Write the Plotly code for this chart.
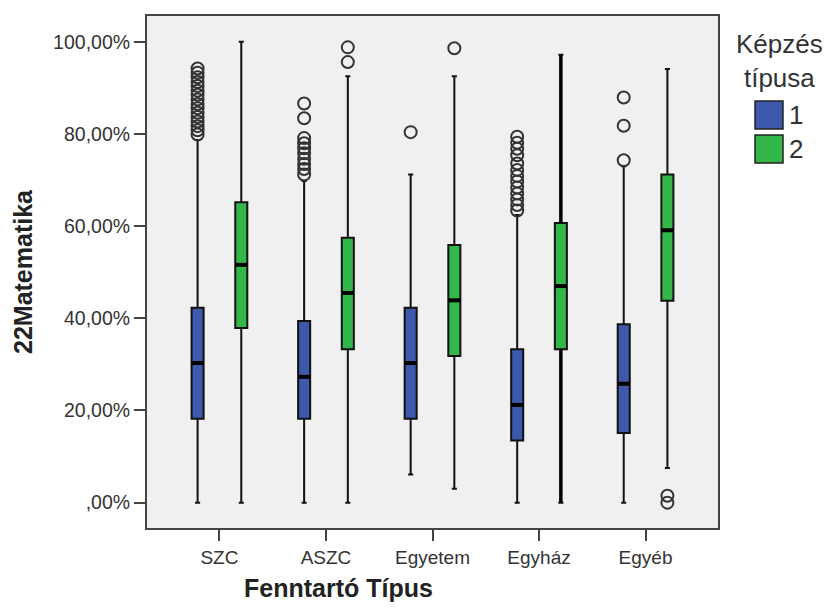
import plotly.graph_objects as go

# Fenntartó típus categories on the x axis
categories = ["SZC", "ASZC", "Egyetem", "Egyház", "Egyéb"]

# Képzés típusa = 1 (blue) : box statistics in percent
g1_low = [0.0, 0.0, 6.1, 0.0, 0.0]
g1_q1 = [18.2, 18.2, 18.2, 13.5, 15.1]
g1_med = [30.3, 27.3, 30.3, 21.2, 25.8]
g1_q3 = [42.3, 39.4, 42.3, 33.3, 38.7]
g1_high = [78.7, 69.8, 71.2, 62.4, 73.0]
g1_outliers = [
    [94.2, 93.3, 92.3, 91.3, 90.4, 89.4, 88.5, 87.5, 86.5, 85.6, 84.6,
     83.7, 82.7, 81.7, 80.8, 79.9],
    [86.6, 83.4, 79.1, 78.0, 76.9, 75.8, 74.6, 73.5, 72.4, 71.2],
    [80.4],
    [79.4, 78.1, 76.8, 75.4, 73.6, 72.2, 70.9, 69.7, 68.4, 67.1, 65.8,
     64.6, 63.4],
    [87.9, 81.8, 74.3],
]

# Képzés típusa = 2 (green)
g2_low = [0.0, 0.0, 3.0, 0.0, 7.5]
g2_q1 = [37.9, 33.3, 31.8, 33.3, 43.8]
g2_med = [51.6, 45.5, 43.9, 47.0, 59.1]
g2_q3 = [65.2, 57.5, 55.9, 60.7, 71.2]
g2_high = [100.0, 92.5, 92.5, 97.2, 94.1]
g2_outliers = [
    [],
    [98.8, 95.6],
    [98.6],
    [],
    [1.5, 0.0],
]

y_ticks = [0, 20, 40, 60, 80, 100]
y_ticktext = [",00%", "20,00%", "40,00%", "60,00%", "80,00%", "100,00%"]

BLUE = "#3D59AB"
GREEN = "#34B74A"
INK = "#333333"
FONT = "Liberation Sans, Arial, sans-serif"

OFFSET = 0.205
BOX_W = 0.113

idx = list(range(len(categories)))
groups = [
    ("1", BLUE, -OFFSET, g1_low, g1_q1, g1_med, g1_q3, g1_high, g1_outliers),
    ("2", GREEN, OFFSET, g2_low, g2_q1, g2_med, g2_q3, g2_high, g2_outliers),
]

fig = go.Figure()

for name, color, off, low, q1, med, q3, high, outs in groups:
    xs = [i + off for i in idx]
    fig.add_trace(go.Box(
        name=name, x=xs, q1=q1, median=med, q3=q3,
        lowerfence=low, upperfence=high,
        width=BOX_W, whiskerwidth=0.42,
        fillcolor=color, line=dict(color="#111111", width=2),
        boxpoints=False, showlegend=False, hoverinfo="skip",
    ))
    # thicker median bars
    mx, my = [], []
    for x, m in zip(xs, med):
        mx += [x - BOX_W / 2, x + BOX_W / 2, None]
        my += [m, m, None]
    fig.add_trace(go.Scatter(
        x=mx, y=my, mode="lines", line=dict(color="black", width=4),
        showlegend=False, hoverinfo="skip",
    ))
    # outliers
    ox, oy = [], []
    for x, vals in zip(xs, outs):
        ox += [x] * len(vals)
        oy += vals
    fig.add_trace(go.Scatter(
        x=ox, y=oy, mode="markers",
        marker=dict(symbol="circle-open", size=12, color=INK,
                    line=dict(width=2, color=INK)),
        showlegend=False, hoverinfo="skip",
    ))

# the Egyház / 2 whisker is rendered heavier
k = categories.index("Egyház")
wx = idx[k] + OFFSET
fig.add_trace(go.Scatter(
    x=[wx, wx, None, wx, wx],
    y=[g2_low[k], g2_q1[k], None, g2_q3[k], g2_high[k]],
    mode="lines", line=dict(color="black", width=3.5),
    showlegend=False, hoverinfo="skip",
))

fig.update_layout(
    width=831, height=610,
    margin=dict(l=147, r=113, t=16, b=82),
    paper_bgcolor="white", plot_bgcolor="#F0F0F0",
    font=dict(family=FONT, color=INK, size=19),
    showlegend=False,
)

fig.update_xaxes(
    range=[-0.68, 4.68], tickmode="array", tickvals=idx, ticktext=categories,
    ticks="outside", ticklen=11, tickwidth=2, tickcolor="#444",
    showline=True, linecolor="#444", linewidth=2, mirror=True,
    showgrid=False, zeroline=False,
    tickfont=dict(size=19, color=INK, family=FONT),
)
fig.update_yaxes(
    range=[-5.5, 105.6], tickmode="array", tickvals=y_ticks,
    ticktext=y_ticktext,
    ticks="outside", ticklen=11, tickwidth=2, tickcolor="#444",
    showline=True, linecolor="#444", linewidth=2, mirror=True,
    showgrid=False, zeroline=False,
    tickfont=dict(size=19.5, color=INK, family=FONT),
)

# axis titles
fig.add_annotation(
    text="<b>Fenntartó Típus</b>", xref="paper", yref="paper",
    x=(338 - 147) / 571, y=(528 - 588) / 512,
    xanchor="center", yanchor="middle", showarrow=False,
    font=dict(size=25, color="#222", family=FONT),
)
fig.add_annotation(
    text="<b>22Matematika</b>", xref="paper", yref="paper",
    x=(23 - 147) / 571, y=0.5, textangle=-90,
    xanchor="center", yanchor="middle", showarrow=False,
    font=dict(size=25, color="#222", family=FONT),
)

# legend block
def px_x(p):
    return (p - 147) / 571


def px_y(p):
    return (528 - p) / 512


fig.add_annotation(
    text="Képzés<br>típusa", xref="paper", yref="paper",
    x=px_x(779), y=px_y(61), xanchor="center", yanchor="middle",
    showarrow=False, align="center",
    font=dict(size=26, color=INK, family=FONT),
)
for (name, color, *_), top in zip(groups, [101, 135]):
    fig.add_shape(
        type="rect", xref="paper", yref="paper",
        x0=px_x(755), x1=px_x(783), y0=px_y(top), y1=px_y(top + 28),
        fillcolor=color, line=dict(color="#222", width=1.5),
    )
    fig.add_annotation(
        text=name, xref="paper", yref="paper",
        x=px_x(787), y=px_y(top + 14), xanchor="left", yanchor="middle",
        showarrow=False, font=dict(size=26, color=INK, family=FONT),
    )

fig.write_html("out.html")
